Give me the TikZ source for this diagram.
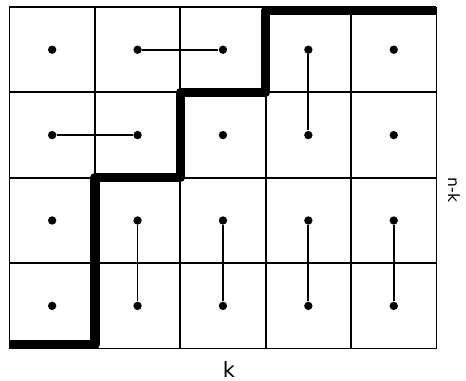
\documentclass[tikz,border=0pt]{standalone}
\usepackage{fontspec}
\setmainfont{DejaVu Sans}
\begin{document}
\begin{tikzpicture}[x=1cm,y=1cm,
  gridline/.style={line width=0.6pt,black},
  dotnode/.style={circle,fill=black,inner sep=0pt,minimum size=0.098cm},
  link/.style={line width=0.6pt,black},
  stair/.style={line width=3.1pt,line join=round,line cap=butt},
  lbl/.style={inner sep=0pt,font=\fontsize{7}{8}\selectfont}]
\useasboundingbox (-0.111,-0.376) rectangle (5.346,4.082);
\draw[gridline] (0,0) grid (5,4);
\foreach \i in {0,...,4}{
  \foreach \j in {0,...,3}{
    \node[dotnode] (d\i\j) at (\i+0.5,\j+0.5) {};
  }
}
% horizontal links
\draw[link] (d13) -- (d23);
\draw[link] (d02) -- (d12);
% vertical links
\draw[link] (d33) -- (d32);
\foreach \i in {1,...,4}{
  \draw[link] (d\i1) -- (d\i0);
}
\coordinate (s0) at (0,0.045);
\coordinate (s1) at (1,0.045);
\coordinate (s2) at (1,2);
\coordinate (s3) at (2,2);
\coordinate (s4) at (2,3);
\coordinate (s5) at (3,3);
\coordinate (s6) at (3,3.955);
\coordinate (s7) at (5,3.955);
\draw[stair] (s0) -- (s1) -- (s2) -- (s3) -- (s4) -- (s5) -- (s6) -- (s7);
\node[lbl] (k) at (2.57,-0.245) {k};
\node[lbl,font=\fontsize{5.2}{6}\selectfont,rotate=-90] (nk) at (5.205,1.855) {n-k};
\end{tikzpicture}
\end{document}
